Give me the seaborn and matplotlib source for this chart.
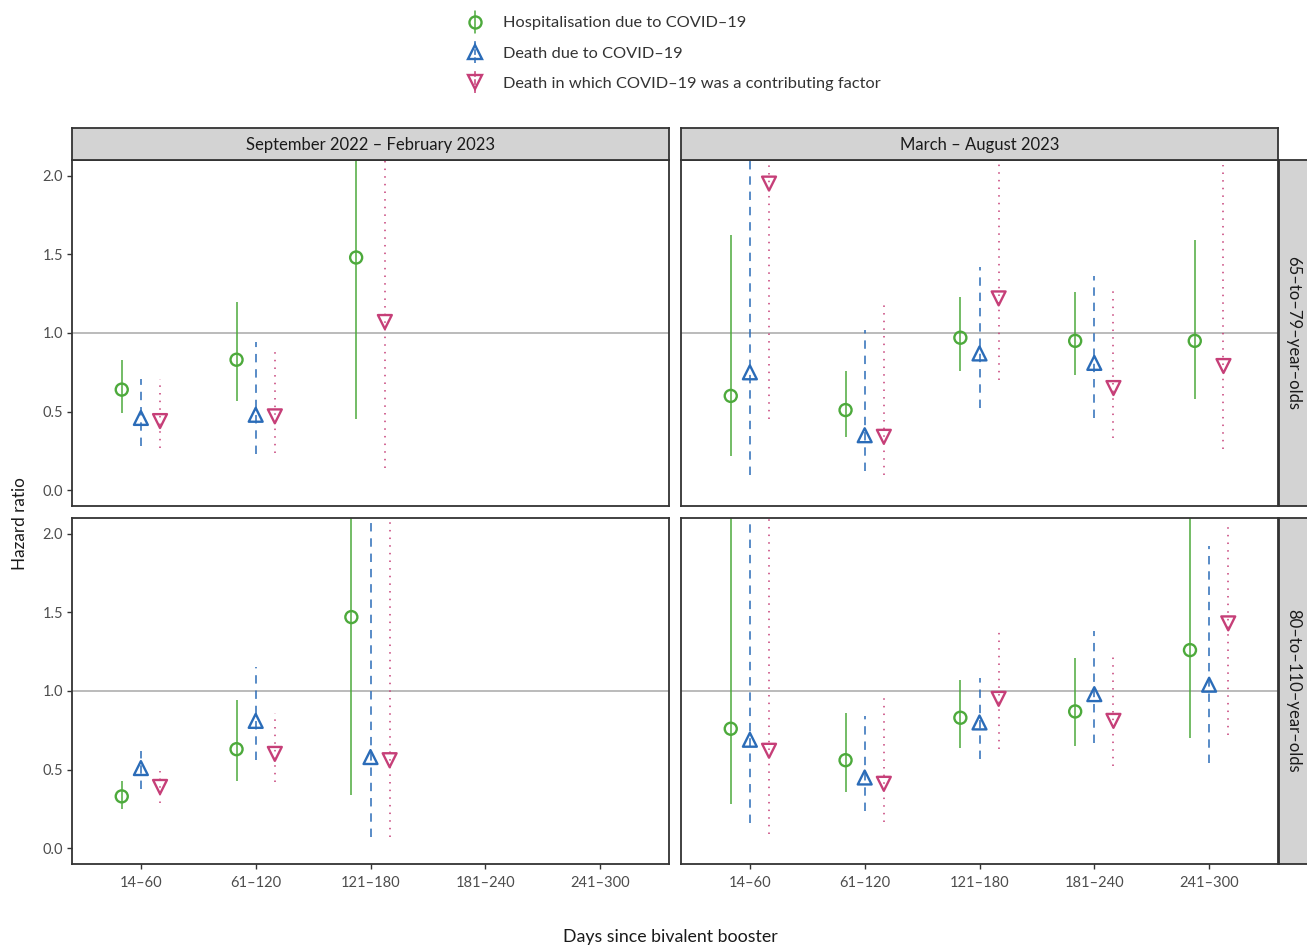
import numpy as np
import pandas as pd
import matplotlib
matplotlib.use("Agg")
import matplotlib.pyplot as plt
import seaborn as sns
from matplotlib.lines import Line2D
from matplotlib.legend_handler import HandlerBase

# ---------------- data ----------------
categories = ["14–60", "61–120", "121–180", "181–240", "241–300"]
periods = ["September 2022 – February 2023", "March – August 2023"]
age_groups = ["65–to–79–year–olds", "80–to–110–year–olds"]
outcomes = ["Hospitalisation due to COVID–19",
            "Death due to COVID–19",
            "Death in which COVID–19 was a contributing factor"]

nan = np.nan
# order: [65-79 Sep-Feb x5, 65-79 Mar-Aug x5, 80-110 Sep-Feb x5, 80-110 Mar-Aug x5]
hosp_hr = [0.64, 0.83, 1.48, nan, nan, 0.60, 0.51, 0.97, 0.95, 0.95,
           0.33, 0.63, 1.47, nan, nan, 0.76, 0.56, 0.83, 0.87, 1.26]
hosp_lo = [0.49, 0.57, 0.45, nan, nan, 0.22, 0.34, 0.76, 0.73, 0.58,
           0.25, 0.43, 0.34, nan, nan, 0.28, 0.36, 0.64, 0.65, 0.70]
hosp_hi = [0.83, 1.20, 3.00, nan, nan, 1.62, 0.76, 1.23, 1.26, 1.59,
           0.43, 0.94, 3.50, nan, nan, 3.20, 0.86, 1.07, 1.21, 2.60]
death_hr = [0.46, 0.48, nan, nan, nan, 0.75, 0.35, 0.87, 0.81, nan,
            0.51, 0.81, 0.58, nan, nan, 0.69, 0.45, 0.80, 0.98, 1.04]
death_lo = [0.28, 0.23, nan, nan, nan, 0.10, 0.12, 0.52, 0.46, nan,
            0.38, 0.56, 0.07, nan, nan, 0.16, 0.24, 0.57, 0.67, 0.54]
death_hi = [0.71, 0.94, nan, nan, nan, 2.90, 1.02, 1.42, 1.36, nan,
            0.62, 1.15, 4.00, nan, nan, 3.00, 0.84, 1.08, 1.38, 1.92]
contrib_hr = [0.44, 0.47, 1.07, nan, nan, 1.95, 0.34, 1.22, 0.65, 0.79,
              0.39, 0.60, 0.56, nan, nan, 0.62, 0.41, 0.95, 0.81, 1.43]
contrib_lo = [0.27, 0.24, 0.14, nan, nan, 0.45, 0.10, 0.70, 0.33, 0.26,
              0.29, 0.42, 0.07, nan, nan, 0.09, 0.17, 0.63, 0.52, 0.72]
contrib_hi = [0.71, 0.91, 2.90, nan, nan, 3.40, 1.20, 2.30, 1.28, 2.07,
              0.49, 0.86, 3.30, nan, nan, 3.10, 0.99, 1.40, 1.25, 2.06]

rows = []
series = [(hosp_hr, hosp_lo, hosp_hi), (death_hr, death_lo, death_hi),
          (contrib_hr, contrib_lo, contrib_hi)]
for oi, (hr, lo, hi) in enumerate(series):
    k = 0
    for age in age_groups:
        for per in periods:
            for ci, cat in enumerate(categories):
                rows.append(dict(outcome=outcomes[oi], oi=oi, age=age, period=per,
                                 category=cat, cat_idx=ci,
                                 hr=hr[k], lo=lo[k], hi=hi[k]))
                k += 1
df = pd.DataFrame(rows).dropna(subset=["hr"]).reset_index(drop=True)

# dodge like ggplot position_dodge(width=0.5): split among groups present
dodge_width = 0.5
df["n"] = df.groupby(["age", "period", "cat_idx"])["hr"].transform("size")
df["rank"] = df.groupby(["age", "period", "cat_idx"])["oi"].rank(method="first") - 1
df["xpos"] = (df.cat_idx - dodge_width / 2 + dodge_width / (2 * df.n)
              + df["rank"] * dodge_width / df.n)

# ---------------- style ----------------
sns.set_theme(style="white")
plt.rcParams["font.family"] = ["Lato", "DejaVu Sans"]

colors = ["#4DAA3C", "#2B6CB8", "#C63F78"]
markers = ["o", "^", "v"]
msizes = [75, 100, 100]
lstyles = ["solid", (0, (5.5, 4.5)), (0, (1, 4))]
dark = "#333333"
W, H = 1307, 947


def rect(x0, y0, x1, y1):
    return [x0 / W, 1 - y1 / H, (x1 - x0) / W, (y1 - y0) / H]


fig = plt.figure(figsize=(W / 100, H / 100), dpi=100)

panel_x = [(72, 669), (681, 1278)]
panel_y = [(160, 506), (518, 864)]

for ai, age in enumerate(age_groups):
    for pi, per in enumerate(periods):
        x0, x1 = panel_x[pi]
        y0, y1 = panel_y[ai]
        ax = fig.add_axes(rect(x0, y0, x1, y1))
        ax.axhline(1.0, color="#b5b5b5", lw=1.3, zorder=1)
        sub = df[(df.age == age) & (df.period == per)]
        for oi, out in enumerate(outcomes):
            s2 = sub[sub.outcome == out]
            ax.vlines(s2.xpos, s2.lo, s2.hi, colors=colors[oi],
                      linestyles=lstyles[oi], lw=1.1, zorder=2)
            sns.scatterplot(x=s2.xpos, y=s2.hr, marker=markers[oi],
                            s=msizes[oi], color=colors[oi], ax=ax,
                            legend=False, zorder=3)
            coll = ax.collections[-1]
            coll.set_facecolor("none")
            coll.set_edgecolor(colors[oi])
            coll.set_linewidth(1.7)
        ax.set_xlim(-0.6, 4.6)
        ax.set_ylim(-0.1, 2.1)
        ax.set_xlabel("")
        ax.set_ylabel("")
        ax.set_xticks(range(len(categories)))
        ax.set_yticks([0.0, 0.5, 1.0, 1.5, 2.0])
        ax.set_yticklabels(["0.0", "0.5", "1.0", "1.5", "2.0"])
        ax.set_xticklabels(categories)
        ax.tick_params(axis="both", colors=dark, labelcolor="#4d4d4d",
                       labelsize=10.5, length=3.5, width=1.0,
                       direction="out", pad=3)
        ax.tick_params(axis="x", pad=5)
        ax.tick_params(left=(pi == 0), labelleft=(pi == 0),
                       bottom=(ai == 1), labelbottom=(ai == 1))
        for sp in ax.spines.values():
            sp.set_color(dark)
            sp.set_linewidth(1.3)
        ax.grid(False)

        # top strips
        if ai == 0:
            sax = fig.add_axes(rect(x0, 128, x1, 160))
            sax.set_facecolor("#d3d3d3")
            sax.set_xticks([]); sax.set_yticks([])
            for sp in sax.spines.values():
                sp.set_color(dark); sp.set_linewidth(1.3)
            sax.text(0.5, 0.47, per, ha="center", va="center",
                     fontsize=12, color="#1a1a1a", transform=sax.transAxes)
        # right strips
        if pi == 1:
            rax = fig.add_axes(rect(1279, y0, 1310, y1))
            rax.set_facecolor("#d3d3d3")
            rax.set_xticks([]); rax.set_yticks([])
            for sp in rax.spines.values():
                sp.set_color(dark); sp.set_linewidth(1.3)
            rax.text(0.47, 0.5, age, ha="center", va="center",
                     rotation=-90, fontsize=12, color="#1a1a1a",
                     transform=rax.transAxes)

fig.text(20 / W, 1 - 524 / H, "Hazard ratio", rotation=90, ha="center",
         va="center", fontsize=12.3, color="#1a1a1a")
fig.text(670 / W, 1 - 937 / H, "Days since bivalent booster", ha="center",
         va="center", fontsize=12.8, color="#1a1a1a")


# ---------------- legend ----------------
class PointRangeHandler(HandlerBase):
    def create_artists(self, legend, orig, xdescent, ydescent, width,
                       height, fontsize, trans):
        cx = width / 2 - xdescent
        cy = height / 2 - ydescent
        line = Line2D([cx, cx], [cy - 7.8, cy + 7.8], color=orig.get_color(),
                      linestyle=orig.get_linestyle(), lw=1.1)
        mk = Line2D([cx], [cy], marker=orig.get_marker(), ms=orig.get_markersize(),
                    mfc="none", mec=orig.get_color(), mew=1.7, ls="none")
        line.set_transform(trans)
        mk.set_transform(trans)
        return [line, mk]


handles = []
for oi in range(3):
    h = Line2D([], [], color=colors[oi], linestyle=lstyles[oi],
               marker=markers[oi], ms=8.7 if oi == 0 else 10)
    handles.append(h)

fig.legend(handles, outcomes, loc="upper left",
           bbox_to_anchor=(463 / W, 1 - 16 / H), frameon=False,
           fontsize=11.8, handlelength=1.5, handletextpad=0.92,
           labelspacing=0.95, borderpad=0, borderaxespad=0,
           handler_map={Line2D: PointRangeHandler()},
           labelcolor="#333333")

fig.savefig("out.png", dpi=100)
